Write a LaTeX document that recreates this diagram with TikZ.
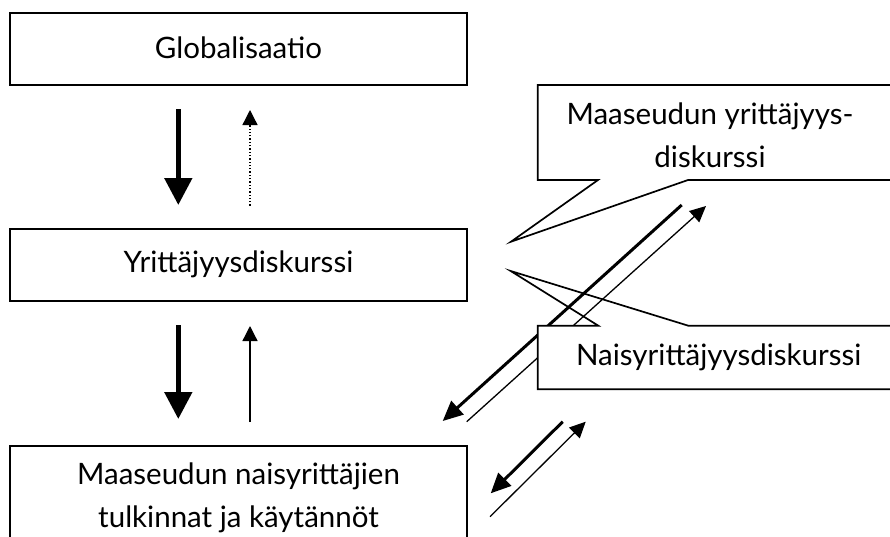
\documentclass[tikz,border=0pt]{standalone}
\usepackage{fontspec}
\setmainfont{Lato}
\usetikzlibrary{arrows.meta}
\begin{document}
\begin{tikzpicture}[x=1pt,y=-1pt,
  box/.style={draw=black,line width=1.7pt,fill=white},
  lbl/.style={font=\fontsize{29.5}{43}\selectfont,align=center,inner sep=0pt},
  bigarrow/.style={line width=5pt,-{Triangle[length=27pt,width=27pt]}},
  thinarrow/.style={line width=1.3pt,-{Triangle[length=15pt,width=15pt]}},
  dotarrow/.style={line width=1.3pt,dotted,-{Triangle[length=15pt,width=15pt]}},
  diagthick/.style={line width=3pt,-{Triangle[length=20pt,width=18pt]}},
  diagthin/.style={line width=1.3pt,-{Triangle[length=16pt,width=15pt]}}]
\useasboundingbox (0,0) rectangle (890,536);
\fill[white] (0,0) rectangle (890,536);
% boxes
\draw[box] (10,13) rectangle (467,85);
\node[lbl] (glob) at (238.5,48) {Globalisaatio};
\draw[box] (10,229) rectangle (467,301);
\node[lbl] (yrit) at (238.5,264) {Yrittäjyysdiskurssi};
\draw[box] (10,445.7) rectangle (467,560);
\node[lbl] (maas) at (238.5,498) {Maaseudun naisyrittäjien\\tulkinnat ja käytännöt};
% vertical arrows
\coordinate (a1s) at (178.3,109); \coordinate (a1e) at (178.3,205);
\coordinate (a2s) at (250,205.7); \coordinate (a2e) at (250,110);
\coordinate (a3s) at (178.3,325); \coordinate (a3e) at (178.3,419);
\coordinate (a4s) at (250,422); \coordinate (a4e) at (250,326);
\draw[bigarrow] (a1s) -- (a1e);
\draw[dotarrow] (a2s) -- (a2e);
\draw[bigarrow] (a3s) -- (a3e);
\draw[thinarrow] (a4s) -- (a4e);
% callout 1
\draw[box,line join=miter] (537.7,85) -- (900,85) -- (900,180) -- (688,180) -- (511,241.7) -- (598,180) -- (537.7,180) -- cycle;
\node[lbl] (mydisk) at (710,135) {Maaseudun yrittäjyys-\\diskurssi};
% diagonal arrows
\coordinate (d1s) at (681.7,205); \coordinate (d1e) at (442.7,421);
\coordinate (d2s) at (466.7,421.7); \coordinate (d2e) at (706,206);
\coordinate (d3s) at (562.7,421.7); \coordinate (d3e) at (490.7,493.3);
\coordinate (d4s) at (490,516.7); \coordinate (d4e) at (585.7,421.7);
\draw[diagthick] (d1s) -- (d1e);
\draw[diagthin] (d2s) -- (d2e);
\draw[diagthick] (d3s) -- (d3e);
\draw[diagthin] (d4s) -- (d4e);
% callout 2
\fill[white] (537.7,325.7) rectangle (900,389.3);
\draw[draw=black,line width=1.7pt,line join=miter] (537.7,325.7) -- (598.3,325.7) -- (510.7,271) -- (688.3,325.7) -- (900,325.7) -- (900,389.3) -- (537.7,389.3) -- cycle;
\node[lbl] (ndisk) at (718.7,357) {Naisyrittäjyysdiskurssi};
\end{tikzpicture}
\end{document}
